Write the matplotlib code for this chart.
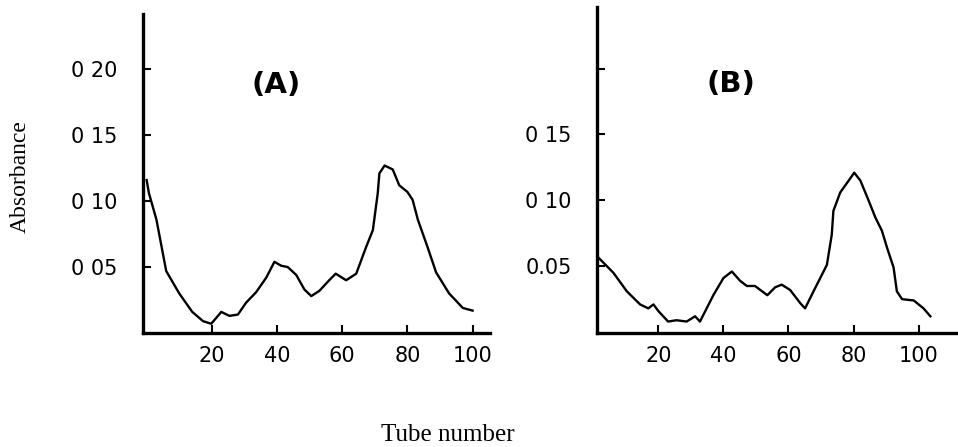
import matplotlib
matplotlib.use("Agg")
import matplotlib.pyplot as plt

# panel A
tube_a = [0, 0.7, 3, 6, 10, 14, 17.3, 19.8, 22.9, 25.4, 28, 30.5, 33.6, 36.7, 39.2,
          41.3, 43.3, 45.9, 48.4, 50.5, 53, 56, 58, 61.2, 64.3, 67.3, 69.4, 70.9,
          71.4, 73, 75.5, 77.5, 80, 81.6, 83.2, 86.2, 88.8, 92.8, 97, 100]
abs_a = [0.116, 0.106, 0.086, 0.047, 0.030, 0.016, 0.009, 0.007, 0.016, 0.013, 0.014,
         0.023, 0.031, 0.042, 0.054, 0.051, 0.050, 0.044, 0.033, 0.028, 0.032, 0.040,
         0.045, 0.040, 0.045, 0.065, 0.078, 0.106, 0.121, 0.127, 0.124, 0.112, 0.107,
         0.101, 0.086, 0.065, 0.046, 0.030, 0.019, 0.017]

# panel B
tube_b = [1, 6.2, 10.3, 14.4, 16.9, 18.5, 20, 23, 25.6, 28.7, 31.3, 32.8, 36.9, 40,
          42.6, 45.1, 47.2, 49.7, 53.5, 55.9, 57.9, 60.5, 63.6, 65.1, 67.7, 71.8, 73.3,
          73.8, 75.9, 78.5, 80.2, 82.1, 84.6, 86.7, 88.7, 90.3, 92.3, 93.3, 94.9, 98.5,
          101.5, 103.6]
abs_b = [0.058, 0.045, 0.031, 0.021, 0.018, 0.021, 0.016, 0.008, 0.009, 0.008, 0.012,
         0.008, 0.028, 0.041, 0.046, 0.039, 0.035, 0.035, 0.028, 0.034, 0.036, 0.032,
         0.022, 0.018, 0.031, 0.051, 0.074, 0.092, 0.106, 0.115, 0.121, 0.115, 0.100,
         0.087, 0.077, 0.064, 0.049, 0.031, 0.025, 0.024, 0.018, 0.012]

x_ticks = [20, 40, 60, 80, 100]
x_labels = ["20", "40", "60", "80", "100"]
y_ticks = [0.05, 0.10, 0.15, 0.20]
y_labels_a = ["0 05", "0 10", "0 15", "0 20"]
y_labels_b = ["0.05", "0 10", "0 15", ""]

TICK_FONT = "DejaVu Sans"


def style(ax, ylabels):
    for side in ("top", "right"):
        ax.spines[side].set_visible(False)
    for side in ("left", "bottom"):
        ax.spines[side].set_linewidth(2.4)
    ax.set_xticks(x_ticks)
    ax.set_xticklabels(x_labels, family=TICK_FONT, fontsize=15)
    ax.set_yticks(y_ticks)
    ax.set_yticklabels(ylabels, family=TICK_FONT, fontsize=15)
    ax.tick_params(axis="both", direction="in", length=6, width=1.5, color="black")
    ax.tick_params(axis="x", pad=9)
    ax.tick_params(axis="y", pad=18)
    ax.patch.set_visible(False)


fig = plt.figure(figsize=(9.58, 4.47), dpi=100)

ax_a = fig.add_axes([0.149, 0.255, 0.362, 0.714])
ax_a.plot(tube_a, abs_a, color="black", lw=1.7)
ax_a.set_xlim(-1.2, 105.2)
ax_a.set_ylim(0, 0.242)
style(ax_a, y_labels_a)
ax_a.text(0.386, 0.777, "(A)", transform=ax_a.transAxes, ha="center", va="center",
          fontsize=21, family=TICK_FONT, fontweight="bold")

ax_b = fig.add_axes([0.623, 0.255, 0.376, 0.730])
ax_b.plot(tube_b, abs_b, color="black", lw=1.7)
ax_b.set_xlim(1.1, 111.8)
ax_b.set_ylim(-0.0007, 0.247)
style(ax_b, y_labels_b)
ax_b.text(0.372, 0.762, "(B)", transform=ax_b.transAxes, ha="center", va="center",
          fontsize=21, family=TICK_FONT, fontweight="bold")

fig.text(0.021, 0.604, "Absorbance", rotation=90, ha="center", va="center",
         family="Liberation Serif", fontsize=17)
fig.text(0.467, 0.027, "Tube number", ha="center", va="center",
         family="Liberation Serif", fontsize=18)

fig.savefig("out.png", dpi=100)
